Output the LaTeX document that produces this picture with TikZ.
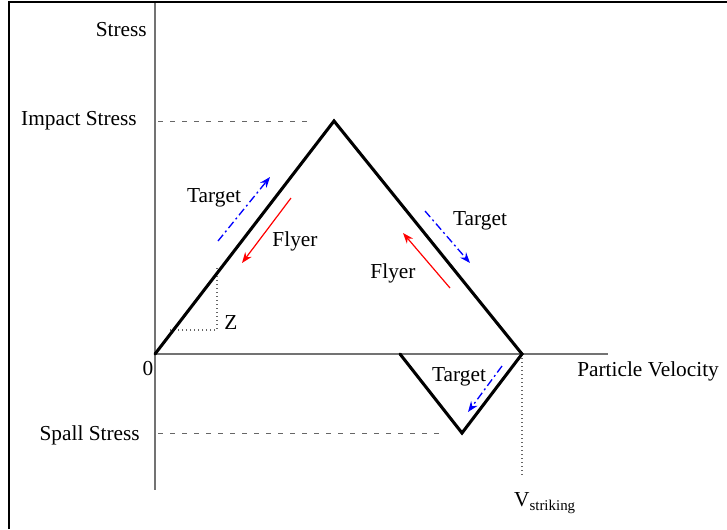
\documentclass[tikz,border=0pt]{standalone}
\usepackage{fontspec}
\setmainfont{Liberation Serif}
\usetikzlibrary{arrows.meta}
\begin{document}
\begin{tikzpicture}[x=0.75pt,y=-0.75pt,
  lbl/.style={font=\fontsize{16}{18}\selectfont,inner sep=0pt},
  axis/.style={draw=black!55,line width=1.2pt},
  wave/.style={line width=2.3pt,line join=miter,line cap=round},
  guide/.style={draw=black!60,line width=0.7pt,dash pattern=on 4pt off 5pt},
  fine/.style={draw=black!60,line width=0.8pt,dash pattern=on 1pt off 2pt},
  tgt/.style={draw=blue,line width=1pt,dash pattern=on 6pt off 2.5pt on 1.5pt off 2.5pt,-{Stealth[length=8pt,width=6pt]}},
  fly/.style={draw=red,line width=0.9pt,-{Stealth[length=8pt,width=6pt]}}]
\useasboundingbox (0,0) rectangle (727,529);
\draw[line width=2pt] (9,529) -- (9,2) -- (727,2);
% axes
\coordinate (O) at (155,354);
\coordinate (ytop) at (155,3);
\coordinate (ybot) at (155,490);
\coordinate (xend) at (608,354);
\draw[axis] (ytop) -- (ybot);
\draw[axis] (O) -- (xend);
% key points
\coordinate (peak) at (334,121);
\coordinate (vs) at (522,354);
\coordinate (sp0) at (400,354);
\coordinate (spb) at (462,433);
\coordinate (imp0) at (158,121);
\coordinate (imp1) at (310,121);
\coordinate (spl0) at (158,433);
\coordinate (spl1) at (442,433);
\coordinate (vsd) at (522,476);
\coordinate (z1) at (217,268);
\coordinate (z2) at (217,330);
\coordinate (z3) at (168,330);
% guides
\draw[guide] (imp0) -- (imp1);
\draw[guide] (spl0) -- (spl1);
\draw[fine] (vs) -- (vsd);
\draw[fine] (z1) -- (z2) -- (z3);
% waves
\draw[wave] (O) -- (peak) -- (vs) -- (spb) -- (sp0);
% labels
\node[lbl,anchor=east] (stress) at (147,30) {Stress};
\node[lbl,anchor=east] (impact) at (137,121) {Impact Stress};
\node[lbl,anchor=east] (spall) at (140,435) {Spall Stress};
\node[lbl] (zero) at (148,369) {0};
\node[lbl,anchor=west] (pv) at (577,371) {Particle Velocity};
\node[lbl] (vstr) at (545,503) {V\textsubscript{striking}};
\node[lbl] (zl) at (231,323) {Z};
\node[lbl] (t1) at (214,198) {Target};
\node[lbl] (f1) at (295,241) {Flyer};
\node[lbl] (t2) at (480,221) {Target};
\node[lbl] (f2) at (393,273) {Flyer};
\node[lbl] (t3) at (459,377) {Target};
% arrows
\coordinate (a1s) at (218,241); \coordinate (a1e) at (270,177);
\coordinate (b1s) at (291,198); \coordinate (b1e) at (242,263);
\coordinate (a2s) at (425,211); \coordinate (a2e) at (470,263);
\coordinate (b2s) at (450,288); \coordinate (b2e) at (403,233);
\coordinate (a3s) at (502,366); \coordinate (a3e) at (468,412);
\draw[tgt] (a1s) -- (a1e);
\draw[fly] (b1s) -- (b1e);
\draw[tgt] (a2s) -- (a2e);
\draw[fly] (b2s) -- (b2e);
\draw[tgt] (a3s) -- (a3e);
\end{tikzpicture}
\end{document}
